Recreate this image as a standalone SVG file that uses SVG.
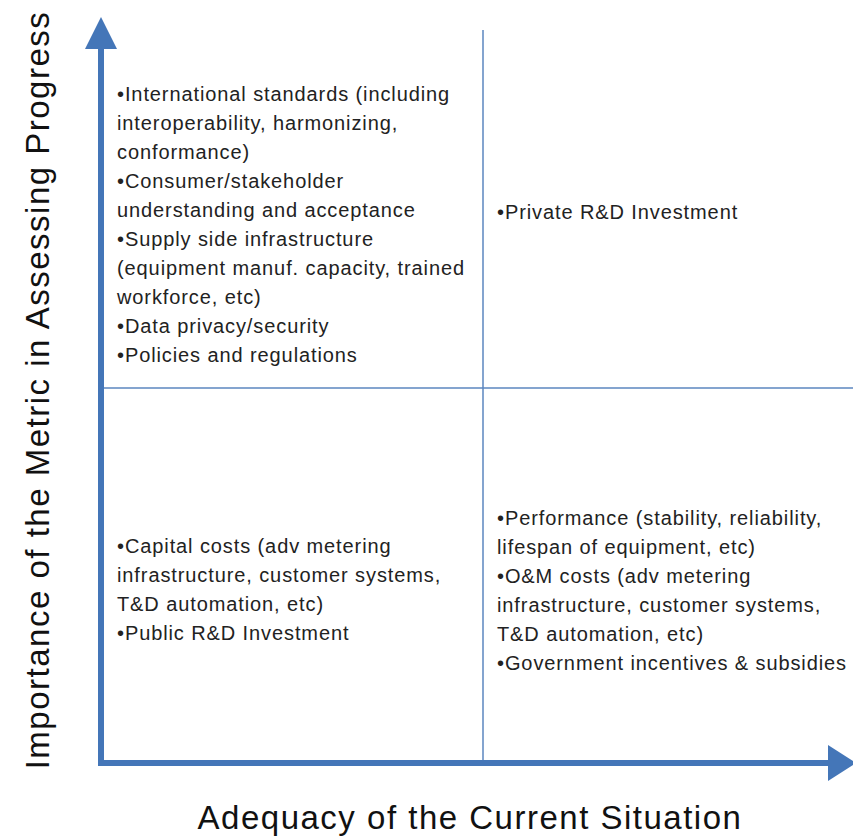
<svg xmlns="http://www.w3.org/2000/svg" width="853" height="838" viewBox="0 0 853 838">
<style>
.t{font-family:"Liberation Sans",Arial,sans-serif;font-size:20px;letter-spacing:0.9px;fill:#222}
.ax{font-family:"Liberation Sans",Arial,sans-serif;font-size:33px;letter-spacing:1.5px;fill:#111}
.grid{stroke:#5b86bf;stroke-width:1.5;fill:none}
.axis{stroke:#4476b8;stroke-width:6;fill:none}
.head{fill:#4476b8}
</style>
<rect width="853" height="838" fill="#fff"/>
<g id="connectors">
<line class="grid" x1="483" y1="30" x2="483" y2="763"/>
<line class="grid" x1="101" y1="388" x2="853" y2="388"/>
<line class="axis" x1="101" y1="763" x2="101" y2="44"/>
<line class="axis" x1="98" y1="763" x2="830" y2="763"/>
<polygon class="head" points="101,17 117,49 85,49"/>
<polygon class="head" points="856,763 828,745 828,781"/>
</g>
<g id="y-label"><text class="ax" transform="translate(49,390) rotate(-90)" text-anchor="middle">Importance of the Metric in Assessing Progress</text></g>
<g id="x-label"><text class="ax" x="470" y="829" text-anchor="middle">Adequacy of the Current Situation</text></g>
<g id="q-top-left">
<text class="t" x="117" y="101">•International standards (including</text>
<text class="t" x="117" y="130">interoperability, harmonizing,</text>
<text class="t" x="117" y="159">conformance)</text>
<text class="t" x="117" y="188">•Consumer/stakeholder</text>
<text class="t" x="117" y="217">understanding and acceptance</text>
<text class="t" x="117" y="246">•Supply side infrastructure</text>
<text class="t" x="117" y="275">(equipment manuf. capacity, trained</text>
<text class="t" x="117" y="304">workforce, etc)</text>
<text class="t" x="117" y="333">•Data privacy/security</text>
<text class="t" x="117" y="362">•Policies and regulations</text>
</g>
<g id="q-top-right">
<text class="t" x="497" y="219">•Private R&amp;D Investment</text>
</g>
<g id="q-bottom-left">
<text class="t" x="117" y="553">•Capital costs (adv metering</text>
<text class="t" x="117" y="582">infrastructure, customer systems,</text>
<text class="t" x="117" y="611">T&amp;D automation, etc)</text>
<text class="t" x="117" y="640">•Public R&amp;D Investment</text>
</g>
<g id="q-bottom-right">
<text class="t" x="497" y="525">•Performance (stability, reliability,</text>
<text class="t" x="497" y="554">lifespan of equipment, etc)</text>
<text class="t" x="497" y="583">•O&amp;M costs (adv metering</text>
<text class="t" x="497" y="612">infrastructure, customer systems,</text>
<text class="t" x="497" y="641">T&amp;D automation, etc)</text>
<text class="t" x="497" y="670">•Government incentives &amp; subsidies</text>
</g>
</svg>
